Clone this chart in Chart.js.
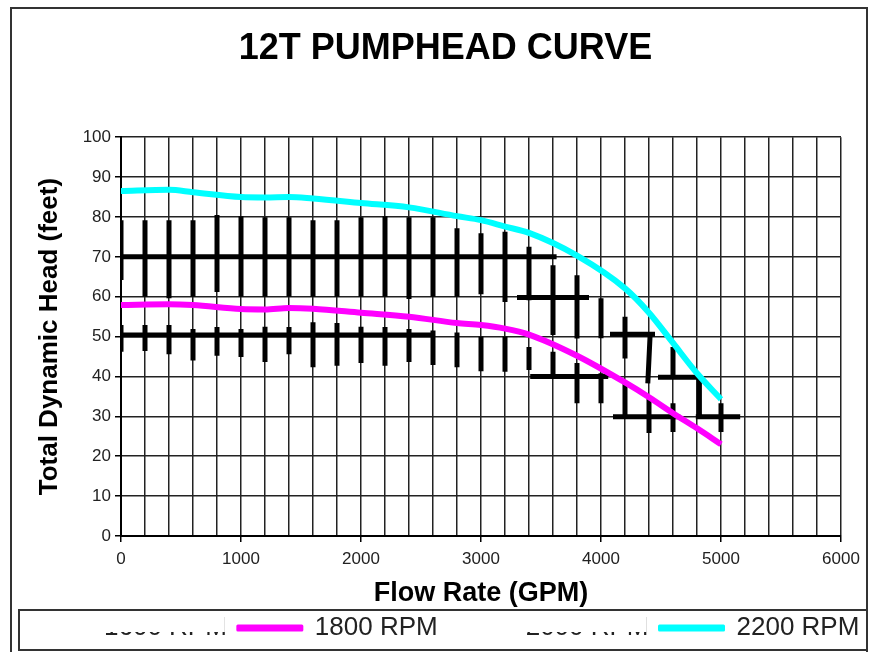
<!DOCTYPE html>
<html>
<head>
<meta charset="utf-8">
<script src="https://cdn.jsdelivr.net/npm/chart.js@4.4.1/dist/chart.umd.min.js"></script>
<style>
  body { margin: 0; background: #fff; }
  canvas { display: block; }
</style>
</head>
<body>
<canvas id="pump_chart" width="875" height="652"></canvas>
<script>
const flow = [0, 400, 600, 1000, 1200, 1400, 1600, 2000, 2400, 2800, 3000, 3200, 3400, 3800, 4200, 4400, 4600, 4800, 5000];
const head_2200 = [86.5, 86.8, 86.2, 85.0, 84.9, 85.0, 84.6, 83.5, 82.4, 80.2, 79.2, 77.6, 76.0, 70.3, 62.1, 56.0, 48.4, 40.8, 34.3];
const head_1800 = [57.9, 58.1, 57.9, 56.9, 56.8, 57.2, 57.0, 56.0, 55.0, 53.4, 52.9, 52.0, 50.5, 45.2, 38.5, 34.8, 30.8, 27.0, 23.0];
const rpm_labels = ["1600 RPM", "1800 RPM", "2000 RPM", "2200 RPM"];
const x_labels = [0, 1000, 2000, 3000, 4000, 5000, 6000];

// thick black strokes drawn over the grid: [x1, y1, x2, y2]
const marks = [
  [0, 70, 3630, 70],
  [0, 79.2, 0, 64.2], [200, 79.2, 200, 60], [400, 79.2, 400, 59.6], [600, 79.2, 600, 60],
  [800, 80.5, 800, 61.2], [1000, 80.2, 1000, 60], [1200, 79.9, 1200, 60], [1400, 79.9, 1400, 60],
  [1600, 79.2, 1600, 60], [1800, 79.2, 1800, 60], [2000, 79.9, 2000, 60], [2200, 80.2, 2200, 60],
  [2400, 79.9, 2400, 59.4], [2600, 79.9, 2600, 60], [2800, 77.2, 2800, 60], [3000, 75.9, 3000, 60.6],
  [3200, 76.3, 3200, 58.7], [3400, 72.5, 3400, 59.1],
  [3300, 59.8, 3900, 59.8],
  [3600, 67.9, 3600, 50.4], [3800, 65.4, 3800, 49.5], [4000, 59.6, 4000, 49.6],
  [4075, 50.6, 4450, 50.6],
  [4200, 55, 4200, 44.5], [4410, 50.9, 4390, 38.3], [4600, 47.4, 4600, 39.9],
  [4475, 39.8, 4800, 39.8],
  [4820, 39.9, 4820, 29.9],
  [4790, 29.9, 5160, 29.9],
  [5000, 33.3, 5000, 26.1],
  [0, 50.4, 2620, 50.4],
  [0, 52.9, 0, 46.2], [200, 52.9, 200, 46.4], [400, 52.9, 400, 45.6], [600, 51.9, 600, 44],
  [800, 52.4, 800, 45.2], [1000, 51.9, 1000, 44.9], [1200, 52.5, 1200, 43.6], [1400, 52.4, 1400, 45.6],
  [1600, 53.6, 1600, 42.3], [1800, 53.4, 1800, 42.7], [2000, 52.5, 2000, 43.4], [2200, 52.4, 2200, 42.7],
  [2400, 51.9, 2400, 43.6], [2600, 51.5, 2600, 42.9], [2800, 51.0, 2800, 42.3], [3000, 50, 3000, 41.3],
  [3200, 50, 3200, 41.2],
  [3410, 40, 4060, 40],
  [3400, 47.4, 3400, 41.6], [3600, 46.2, 3600, 40], [3800, 43.4, 3800, 33.3], [4000, 40.8, 4000, 33.3],
  [4100, 29.9, 4660, 29.9],
  [4200, 38.3, 4200, 29.9], [4400, 34.9, 4400, 25.8], [4600, 33.3, 4600, 26.1]
];

Chart.defaults.font.family = "'Liberation Sans', Arial, sans-serif";
Chart.defaults.color = '#222';

const toPoints = (ys) => flow.map((x, i) => ({x: x, y: ys[i]}));

const markPoints = [];
marks.forEach(m => {
  markPoints.push({x: m[0], y: m[1]}, {x: m[2], y: m[3]}, {x: m[2], y: null});
});

const curve = (label, color, ys) => ({
  label: label,
  data: ys ? toPoints(ys) : [],
  borderColor: color,
  backgroundColor: color,
  borderWidth: 6,
  showLine: true,
  pointRadius: 0,
  cubicInterpolationMode: 'monotone',
  order: 0
});

const framePlugin = {
  id: 'frame',
  afterDraw(chart) {
    const ctx = chart.ctx;
    const boxes = chart.legend.legendHitBoxes;
    ctx.save();
    // the 1600 and 2000 entries are blanked out in the original
    ctx.fillStyle = '#fff';
    [0, 2].forEach(i => {
      const b = boxes[i];
      ctx.fillRect(b.left - 6, b.top - 4, b.width + 4, 21);
    });
    ctx.strokeStyle = '#333';
    ctx.lineWidth = 2;
    ctx.beginPath();
    ctx.moveTo(11, 652); ctx.lineTo(11, 8); ctx.lineTo(867, 8); ctx.lineTo(867, 652);
    ctx.stroke();
    ctx.strokeRect(19, 610, 848, 40);
    ctx.restore();
  }
};

const pump_chart = new Chart(document.getElementById('pump_chart'), {
  type: 'scatter',
  data: {
    datasets: [
      curve(rpm_labels[0], '#ffffff', null),
      curve(rpm_labels[1], '#ff00ff', head_1800),
      curve(rpm_labels[2], '#ffffff', null),
      curve(rpm_labels[3], '#00ffff', head_2200),
      {
        label: 'marks',
        data: markPoints,
        borderColor: '#000',
        backgroundColor: '#000',
        borderWidth: 5,
        showLine: true,
        spanGaps: false,
        pointRadius: 0,
        order: 1
      }
    ]
  },
  options: {
    responsive: false,
    animation: false,
    devicePixelRatio: 1,
    layout: { padding: { left: 16, right: 0, top: 0, bottom: 1 } },
    plugins: {
      tooltip: { enabled: false },
      title: {
        display: true,
        text: '12T PUMPHEAD CURVE',
        color: '#000',
        font: { size: 36, weight: 'bold' },
        padding: { top: 27, bottom: 67 }
      },
      legend: {
        position: 'bottom',
        align: 'start',
        labels: {
          boxWidth: 64,
          boxHeight: 4,
          padding: 11,
          color: '#222',
          font: { size: 26 },
          filter: (item) => item.datasetIndex < 4,
          generateLabels: (chart) => {
            const items = Chart.defaults.plugins.legend.labels.generateLabels(chart);
            items.forEach(it => {
              it.lineWidth = 3;
              it.lineJoin = 'round';
              it.fontColor = '#222';
            });
            return items;
          }
        }
      }
    },
    scales: {
      x: {
        type: 'linear',
        min: 0,
        max: 6000,
        afterFit: (s) => { s.height = 68; },
        ticks: {
          stepSize: 200,
          autoSkip: false,
          maxRotation: 0,
          padding: 7,
          color: '#222',
          font: { size: 17 },
          callback: (v) => x_labels.includes(v) ? String(v) : ''
        },
        grid: {
          color: '#222',
          lineWidth: 1.5,
          tickLength: 6,
          tickColor: (c) => (c.tick && x_labels.includes(c.tick.value)) ? '#000' : 'rgba(0,0,0,0)'
        },
        border: { color: '#000', width: 2 },
        title: {
          display: true,
          text: 'Flow Rate (GPM)',
          color: '#000',
          font: { size: 27, weight: 'bold' },
          padding: { top: 0, bottom: -6 }
        }
      },
      y: {
        min: 0,
        max: 100,
        afterFit: (s) => { s.width = 105; },
        ticks: {
          stepSize: 10,
          padding: 4,
          color: '#222',
          font: { size: 17 }
        },
        grid: { color: '#222', lineWidth: 1.5, tickLength: 6, tickColor: '#000' },
        border: { color: '#000', width: 2 },
        title: {
          display: true,
          text: 'Total Dynamic Head (feet)',
          color: '#000',
          font: { size: 26, weight: 'bold' },
          padding: { top: 18, bottom: 0 }
        }
      },
      yR: {
        type: 'linear',
        position: 'right',
        afterFit: (s) => { s.width = 34; },
        ticks: { display: false },
        grid: { display: false },
        border: { display: false }
      }
    }
  },
  plugins: [framePlugin]
});
</script>
</body>
</html>
